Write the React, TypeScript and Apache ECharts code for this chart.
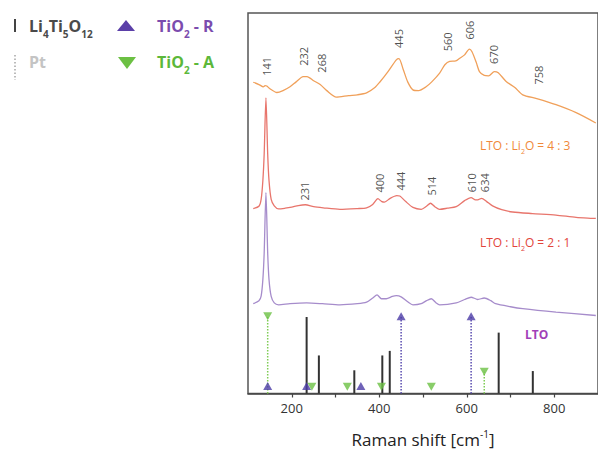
import React, { useEffect, useRef } from 'react';
import * as echarts from 'echarts';

// ---- Spectra (Raman shift in cm^-1, intensity in arbitrary units, stacked) ----
const orangeX = [112,125,135,139,143,150,166,180,196,210,226,235,250,265,280,302,330,350,371,390,401,420,439,445,455,465,477,490,507,520,538,550,561,575,584,595,606,612,622,629,640,650,663,672,690,710,728,760,804,850,895];
const orangeY = [81.8,81.2,80.6,80.9,80.8,80.1,79.1,79.6,80.6,81.9,83.3,83.3,82.2,81.2,79.6,77.9,78.3,78.5,79.0,80.4,81.8,84.6,87.7,88.0,85.1,81.9,79.8,79.6,80.6,81.9,84.2,86.4,87.3,87.4,88.1,89.0,90.5,89.8,86.9,84.6,83.6,83.5,84.6,84.3,82.0,80.4,78.5,77.5,75.9,73.8,71.1];

const redX = [112,125,130,134,137,141,145,148,153,160,170,185,200,215,231,250,272,310,350,371,385,397,405,412,425,440,447,460,477,496,508,517,527,538,556,576,595,610,620,625,634,645,659,680,705,750,804,850,895];
const redY = [48.6,49.2,51.0,56.0,63.0,77.7,63.0,56.0,51.0,49.3,48.5,48.7,49.0,49.4,49.6,49.1,48.8,48.4,48.6,48.8,49.7,51.2,50.5,50.3,51.3,52.0,51.9,50.5,48.9,48.4,49.2,50.0,49.1,48.4,48.7,49.1,50.7,51.5,50.9,50.9,51.3,50.5,49.3,48.3,47.7,47.3,46.9,46.3,46.0];

const purpleX = [112,125,130,134,137,141,145,148,153,160,170,196,234,270,310,350,371,385,395,405,416,430,439,450,465,477,496,508,519,530,538,576,595,610,620,625,640,655,666,700,728,804,895];
const purpleY = [23.6,24.4,25.6,30.0,37.0,52.8,37.0,30.0,25.5,23.8,23.3,23.6,23.8,23.6,23.3,23.6,24.0,25.1,25.9,24.9,24.9,25.5,25.7,25.4,24.1,23.3,23.6,24.4,24.9,23.8,23.3,23.8,24.7,25.3,24.9,24.7,25.1,24.4,23.6,22.8,22.3,21.4,20.5];

// ---- Peak annotations ----
const orangeLabelText = ['141','232','268','445','560','606','670','758'];
const orangeLabelX = [143,226,268,445,557,606,661,764];
const orangeLabelY = [86.0,88.6,86.8,93.3,92.4,95.5,89.1,83.7];

const redLabelText = ['231','400','444','514','610','634'];
const redLabelX = [230,401,448,519,610,640];
const redLabelY = [53.2,55.3,55.8,54.5,55.4,55.4];

// ---- Reference lines ----
const ltoX = [234,262,343,407,424,673,751];
const ltoH = [20.1,10.0,6.1,10.0,11.2,16.0,5.9];

const rutileX = [145,234,358,450,610];
const rutileH = [2.0,2.0,2.0,20.3,20.3];
const rutileLineX = [450,610];
const rutileLineH = [20.3,20.3];

const anataseX = [145,246,327,405,519,640];
const anataseH = [20.3,1.75,1.75,1.75,1.75,5.7];
const anataseLineX = [145,640];
const anataseLineH = [20.3,5.7];

const xTicks = [200,300,400,500,600,700,800];
const xTickLabels = [200,400,600,800];

const FONT = '"Open Sans", "DejaVu Sans", sans-serif';

const zip = (xs: number[], ys: number[]) => xs.map((x, i) => [x, ys[i]]);

function stickSeries(xs: number[], hs: number[], color: string, width: number, dash: number[] | null, z: number) {
  return {
    type: 'custom',
    silent: true,
    z,
    renderItem: (_params: any, api: any) => {
      const x = api.value(0);
      const h = api.value(1);
      const p0 = api.coord([x, 0]);
      const p1 = api.coord([x, h]);
      return {
        type: 'line',
        shape: { x1: p0[0], y1: p0[1], x2: p1[0], y2: p1[1] },
        style: { stroke: color, lineWidth: width, lineDash: dash || undefined },
      };
    },
    data: zip(xs, hs),
  };
}

function spectrum(xs: number[], ys: number[], color: string) {
  return {
    type: 'line',
    data: zip(xs, ys),
    showSymbol: false,
    smooth: 0.25,
    silent: true,
    lineStyle: { color, width: 1.3 },
    z: 3,
  };
}

function peakLabels(texts: string[], xs: number[], ys: number[]) {
  return {
    type: 'scatter',
    silent: true,
    symbolSize: 1,
    itemStyle: { color: 'rgba(0,0,0,0)' },
    z: 6,
    data: texts.map((t, i) => ({ name: t, value: [xs[i], ys[i]] })),
    label: {
      show: true,
      position: 'inside',
      rotate: 90,
      formatter: '{b}',
      fontSize: 11,
      color: '#222',
      fontFamily: FONT,
    },
  };
}

function richText(x: number, y: number, text: string, size: number, color: string, weight: string) {
  return {
    type: 'text',
    x,
    y,
    silent: true,
    style: {
      text,
      align: 'left',
      verticalAlign: 'middle',
      rich: {
        a: { fontSize: size, fontWeight: weight, fill: color, color, fontFamily: FONT, lineHeight: Math.round(size * 1.6) },
        s: { fontSize: Math.round(size * 0.62), fontWeight: weight, fill: color, color, fontFamily: FONT, lineHeight: Math.round(size * 0.6), verticalAlign: 'bottom' },
      },
    },
  };
}

export default function App() {
  const ref = useRef<HTMLDivElement>(null);
  useEffect(() => {
    if (!ref.current) return;
    const chart = echarts.init(ref.current, undefined, { renderer: 'svg' });
    chart.setOption({
      animation: false,
      backgroundColor: '#fff',
      grid: { left: 248, right: -1, top: 13, bottom: 58, show: true, borderColor: '#555', borderWidth: 1.5 },
      xAxis: {
        type: 'value',
        min: 100,
        max: 900,
        interval: 100,
        axisLine: { show: true, lineStyle: { color: '#444', width: 1.5 } },
        axisTick: { show: true, customValues: xTicks, length: 4, lineStyle: { color: '#444', width: 1.2 } },
        axisLabel: { customValues: xTickLabels, fontSize: 13, color: '#333', fontFamily: FONT, margin: 8 },
        splitLine: { show: false },
        name: '{a|Raman shift [cm}{s|-1}{a|]}',
        nameLocation: 'middle',
        nameGap: 35,
        nameTextStyle: {
          rich: {
            a: { fontSize: 17, color: '#222', fontFamily: FONT, lineHeight: 22 },
            s: { fontSize: 10, color: '#222', fontFamily: FONT, lineHeight: 10, verticalAlign: 'top' },
          },
        },
      },
      yAxis: {
        type: 'value',
        min: 0,
        max: 100,
        show: true,
        axisLine: { show: false },
        axisTick: { show: false },
        axisLabel: { show: false },
        splitLine: { show: false },
      },
      series: [
        spectrum(orangeX, orangeY, '#f0a05a'),
        spectrum(redX, redY, '#e8756c'),
        spectrum(purpleX, purpleY, '#a68ccb'),
        stickSeries(ltoX, ltoH, '#333', 2, null, 2),
        stickSeries(rutileLineX, rutileLineH, '#5a4db0', 1.5, [1.5, 1.5], 2),
        stickSeries(anataseLineX, anataseLineH, '#7fcc55', 1.5, [1.5, 1.5], 2),
        {
          type: 'scatter',
          silent: true,
          z: 4,
          symbol: 'triangle',
          symbolSize: [9, 8],
          itemStyle: { color: '#4b3ba6' },
          data: zip(rutileX, rutileH),
        },
        {
          type: 'scatter',
          silent: true,
          z: 4,
          symbol: 'triangle',
          symbolRotate: 180,
          symbolSize: [9, 8],
          itemStyle: { color: '#6cc043' },
          data: zip(anataseX, anataseH),
        },
        peakLabels(orangeLabelText, orangeLabelX, orangeLabelY),
        peakLabels(redLabelText, redLabelX, redLabelY),
      ],
      graphic: [
        // legend
        { type: 'line', silent: true, shape: { x1: 15, y1: 19, x2: 15, y2: 32 }, style: { stroke: '#444', lineWidth: 2 } },
        richText(29, 26, '{a|Li}{s|4}{a|Ti}{s|5}{a|O}{s|12}', 16, '#4a4a4a', 'bold'),
        { type: 'polygon', silent: true, shape: { points: [[117, 31], [135, 31], [126, 20]] }, style: { fill: '#5b3fa8' } },
        richText(157, 26, '{a|TiO}{s|2}{a| - R}', 16, '#7b4cae', 'bold'),
        { type: 'line', silent: true, shape: { x1: 15, y1: 55, x2: 15, y2: 80 }, style: { stroke: '#bbb', lineWidth: 2, lineDash: [1.5, 2] } },
        richText(29, 62, '{a|Pt}', 16, '#c4c4c4', 'bold'),
        { type: 'polygon', silent: true, shape: { points: [[118, 57], [136, 57], [127, 69]] }, style: { fill: '#6cc043' } },
        richText(157, 62, '{a|TiO}{s|2}{a| - A}', 16, '#5cb83a', 'bold'),
        // spectrum captions
        richText(480, 145, '{a|LTO : Li}{s|2}{a|O = 4 : 3}', 12, '#f0883a', 'normal'),
        richText(480, 242, '{a|LTO : Li}{s|2}{a|O = 2 : 1}', 12, '#e2443a', 'normal'),
        richText(525, 334, '{a|LTO}', 12, '#a13fb8', 'bold'),
      ],
    });
    return () => chart.dispose();
  }, []);
  return (
    <div
      ref={ref}
      style={{ position: 'absolute', left: 0, top: 0, width: 598, height: 453, background: '#fff' }}
    />
  );
}
